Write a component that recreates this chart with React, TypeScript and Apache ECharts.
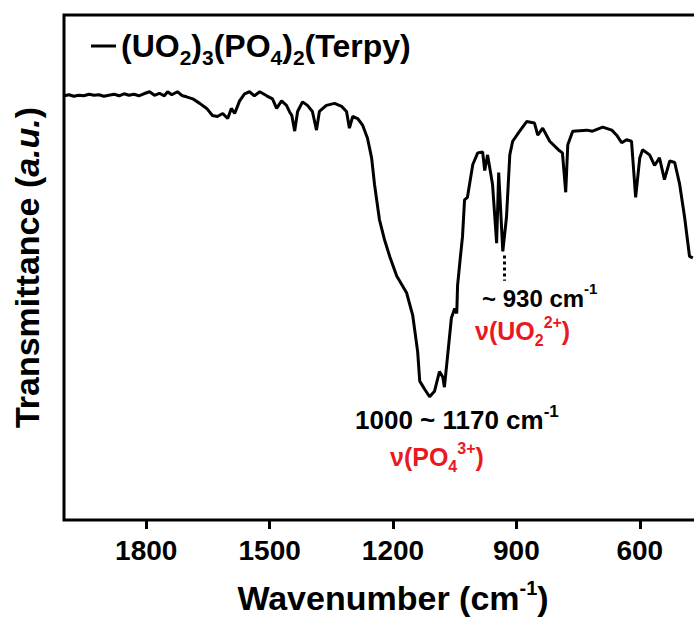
import React, { useEffect, useRef } from "react";
import * as echarts from "echarts";

// Wavenumber (cm-1) and transmittance (arbitrary units, 0 = frame bottom, 100 = frame top)
const wavenumbers = [
  1999, 1988, 1976, 1964, 1952, 1939, 1927, 1915, 1903, 1891, 1878, 1866, 1854, 1842, 1830, 1818, 1806,
  1792, 1780, 1768, 1756, 1748, 1738, 1731, 1724, 1712, 1702, 1687, 1670, 1653, 1639, 1627, 1614, 1602,
  1593, 1585, 1573, 1561, 1549, 1537, 1524, 1507, 1493, 1483, 1471, 1459, 1452, 1446, 1439, 1432, 1420,
  1408, 1396, 1386, 1379, 1362, 1342, 1325, 1313, 1306, 1298, 1286, 1274, 1262, 1252, 1245, 1233, 1221,
  1208, 1191, 1167, 1152, 1140, 1135, 1123, 1111, 1099, 1087, 1079, 1075, 1067, 1058, 1050, 1045, 1043,
  1036, 1031, 1026, 1019, 1006, 994, 982, 977, 970, 958, 948, 943, 933, 924, 916, 909, 892, 875, 856,
  848, 836, 819, 795, 788, 780, 775, 763, 729, 715, 690, 668, 656, 644, 632, 620, 610, 600, 593, 576,
  564, 552, 540, 527, 515, 503, 491, 479, 471,
];
const transmittance = [
  84.0, 84.2, 83.9, 84.1, 84.0, 84.3, 84.1, 84.2, 83.9, 84.1, 84.3, 84.0, 84.4, 84.1, 84.3, 84.0, 84.4,
  84.8, 84.1, 84.5, 84.0, 84.8, 84.2, 84.5, 84.8, 84.0, 83.8, 83.4, 82.5, 81.5, 80.1, 79.9, 80.5, 79.5,
  81.5, 80.5, 83.0, 84.4, 84.8, 84.0, 84.8, 84.0, 83.4, 81.5, 83.0, 82.1, 80.9, 80.1, 77.0, 80.9, 82.8,
  82.1, 80.9, 77.2, 80.9, 82.1, 82.5, 81.9, 80.9, 77.6, 79.9, 79.5, 78.2, 75.6, 71.7, 66.5, 59.5, 55.6,
  52.2, 48.3, 45.0, 40.5, 33.3, 27.5, 25.9, 24.4, 25.5, 29.4, 28.3, 26.3, 32.7, 40.0, 41.9, 40.9, 46.4,
  52.2, 56.1, 63.4, 63.9, 70.4, 72.7, 72.9, 69.2, 72.3, 66.5, 54.8, 68.8, 53.2, 60.0, 72.3, 75.0, 77.0, 78.9, 78.6,
  76.2, 77.6, 75.0, 73.1, 72.7, 64.9, 74.3, 77.0, 77.2, 77.0, 77.8, 77.2, 76.2, 74.7, 75.3, 75.0, 63.9, 71.7, 73.3, 72.3,
  70.2, 71.7, 67.4, 71.1, 70.8, 66.5, 60.0, 52.2, 51.9,
];
const xTicks = [1800, 1500, 1200, 900, 600];
const uranylMarkerX = 930;
const uranylMarkerY = [52.4, 47.4];

const seriesName = "(UO₂)₃(PO₄)₂(Terpy)";
const FONT = 'Arial, "Liberation Sans", Helvetica, sans-serif';
const RED = "#e8191f";

export default function App() {
  const ref = useRef<HTMLDivElement>(null);
  useEffect(() => {
    if (!ref.current) return;
    const chart = echarts.init(ref.current, undefined, { renderer: "svg" });
    const data = wavenumbers.map((w, i) => [w, transmittance[i]]);
    const base = { fontFamily: FONT, fontWeight: "bold" as const, color: "#000" };
    const gbase = { fontFamily: FONT, fontWeight: "bold" as const };
    const annRich = (size: number, color: string) => ({
      n: { ...gbase, fill: color, fontSize: size, lineHeight: 34 },
      sup: { ...gbase, fill: color, fontSize: Math.round(size * 0.64), lineHeight: 24, verticalAlign: "top" },
      sub: { ...gbase, fill: color, fontSize: Math.round(size * 0.64), lineHeight: 16, verticalAlign: "bottom" },
    });
    chart.setOption({
      animation: false,
      grid: { left: 64, top: 15, width: 658, height: 513, show: true, borderColor: "#000", borderWidth: 3, backgroundColor: "transparent" },
      legend: {
        left: 86,
        top: 25,
        icon: "rect",
        itemWidth: 25,
        itemHeight: 3,
        itemGap: 6,
        data: [seriesName],
        formatter: () => "{n|(UO}{s|2}{n|)}{s|3}{n|(PO}{s|4}{n|)}{s|2}{n|(Terpy)}",
        textStyle: {
          ...base,
          fontSize: 32,
          rich: {
            n: { ...base, fontSize: 32, lineHeight: 44 },
            s: { ...base, fontSize: 21, lineHeight: 21, verticalAlign: "bottom" },
          },
        },
      },
      xAxis: {
        type: "value",
        inverse: true,
        min: 400,
        max: 2000,
        name: "{n|Wavenumber (cm}{sup|-1}{n|)}",
        nameLocation: "middle",
        nameGap: 58,
        nameTextStyle: {
          ...base,
          fontSize: 34,
          rich: {
            n: { ...base, fontSize: 34, lineHeight: 40 },
            sup: { ...base, fontSize: 20, lineHeight: 20, verticalAlign: "top" },
          },
        },
        axisLine: { show: false },
        splitLine: { show: false },
        axisTick: { show: true, inside: false, length: 9, lineStyle: { color: "#000", width: 3 }, customValues: xTicks },
        axisLabel: { ...base, fontSize: 28, margin: 16, customValues: xTicks, formatter: (v: number) => String(v) },
      },
      yAxis: {
        type: "value",
        min: 0,
        max: 100,
        name: "{n|Transmittance (}{i|a.u.}{n|)}",
        nameLocation: "middle",
        nameGap: 20,
        nameTextStyle: {
          ...base,
          fontSize: 34,
          rich: {
            n: { ...base, fontSize: 34 },
            i: { ...base, fontSize: 34, fontStyle: "italic" },
          },
        },
        axisLine: { show: false },
        axisTick: { show: false },
        axisLabel: { show: false },
        splitLine: { show: false },
      },
      series: [
        {
          name: seriesName,
          type: "line",
          data,
          showSymbol: false,
          symbol: "none",
          lineStyle: { color: "#000", width: 3 },
          itemStyle: { color: "#000" },
          markLine: {
            silent: true,
            symbol: ["none", "none"],
            label: { show: false },
            lineStyle: { color: "#000", width: 3, type: [3, 3] },
            data: [[{ coord: [uranylMarkerX, uranylMarkerY[0]] }, { coord: [uranylMarkerX, uranylMarkerY[1]] }]],
          },
        },
      ],
      graphic: [
        {
          type: "text",
          x: 482,
          y: 298,
          style: {
            text: "{n|~ 930 cm}{sup|-1}",
            fill: "#000",
            rich: annRich(24, "#000"),
            verticalAlign: "middle",
            align: "left",
          },
        },
        {
          type: "text",
          x: 475,
          y: 331,
          style: {
            text: "{n|ν(UO}{sub|2}{sup|2+}{n|)}",
            fill: RED,
            rich: annRich(25, RED),
            verticalAlign: "middle",
            align: "left",
          },
        },
        {
          type: "text",
          x: 355,
          y: 420,
          style: {
            text: "{n|1000 ~ 1170 cm}{sup|-1}",
            fill: "#000",
            rich: annRich(26, "#000"),
            verticalAlign: "middle",
            align: "left",
          },
        },
        {
          type: "text",
          x: 390,
          y: 457,
          style: {
            text: "{n|ν(PO}{sub|4}{sup|3+}{n|)}",
            fill: RED,
            rich: annRich(25, RED),
            verticalAlign: "middle",
            align: "left",
          },
        },
      ],
    });
    return () => chart.dispose();
  }, []);
  return (
    <div style={{ position: "absolute", left: 0, top: 0, width: 694, height: 620, overflow: "hidden", background: "#fff" }}>
      <div ref={ref} style={{ width: 730, height: 620 }} />
    </div>
  );
}
